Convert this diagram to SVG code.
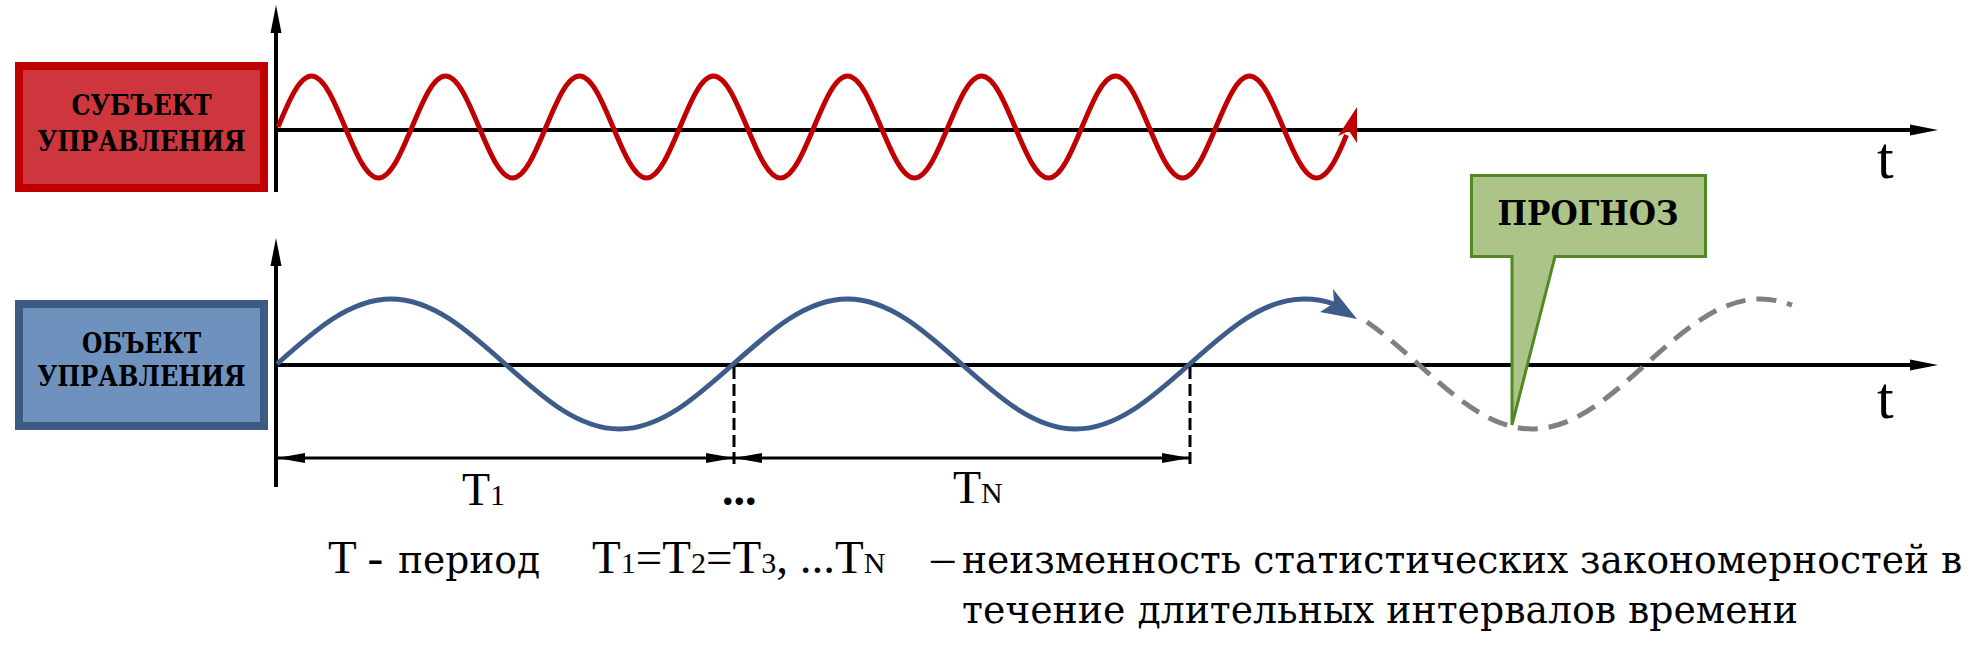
<svg xmlns="http://www.w3.org/2000/svg" width="1985" height="657" viewBox="0 0 1985 657">
<style>
  text { font-family: "Liberation Serif", "Times New Roman", serif; fill: #000; }
  .cyr { font-family: "DejaVu Serif", "Liberation Serif", serif; }
  .box { font-weight: bold; font-size: 27px; text-anchor: middle; }
  .axis { stroke: #000; stroke-width: 4; fill: none; }
  .dim { stroke: #000; stroke-width: 3; fill: none; }
  .vdash { stroke: #000; stroke-width: 3; stroke-dasharray: 12 5; fill: none; }
  .big { font-size: 47px; }
  .cbig { font-size: 40px; }
  .sub { font-size: 30px; }
  .tlab { font-size: 60px; }
</style>
<defs>
  <marker id="axArrow" markerUnits="userSpaceOnUse" markerWidth="30" markerHeight="14" refX="0" refY="0" viewBox="0 -7 30 14" orient="auto" overflow="visible">
    <path d="M0,-5.5 L28,0 L0,5.5 Z" fill="#000"/>
  </marker>
  <marker id="dimArrow" markerUnits="userSpaceOnUse" markerWidth="30" markerHeight="12" refX="28" refY="0" viewBox="0 -6 30 12" orient="auto-start-reverse" overflow="visible">
    <path d="M0,-5 L28,0 L0,5 Z" fill="#000"/>
  </marker>
</defs>

<g id="node-subject">
  <rect x="19" y="66" width="245" height="122" fill="#CC363C" stroke="#C00000" stroke-width="8"/>
  <text class="box cyr" x="141.5" y="115" textLength="140" lengthAdjust="spacingAndGlyphs">СУБЪЕКТ</text>
  <text class="box cyr" x="141.5" y="151" textLength="208" lengthAdjust="spacingAndGlyphs">УПРАВЛЕНИЯ</text>
</g>

<g id="node-object">
  <rect x="19" y="304" width="245" height="122" fill="#6E91BE" stroke="#3C5A82" stroke-width="8"/>
  <text class="box cyr" x="141.5" y="353" textLength="119" lengthAdjust="spacingAndGlyphs">ОБЪЕКТ</text>
  <text class="box cyr" x="141.5" y="386" textLength="208" lengthAdjust="spacingAndGlyphs">УПРАВЛЕНИЯ</text>
</g>

<g id="axes">
  <line class="axis" x1="276" y1="192" x2="276" y2="33" marker-end="url(#axArrow)"/>
  <line class="axis" x1="274" y1="130" x2="1910" y2="130" marker-end="url(#axArrow)"/>
  <line class="axis" x1="276" y1="487" x2="276" y2="266" marker-end="url(#axArrow)"/>
  <line class="axis" x1="274" y1="365" x2="1910" y2="365" marker-end="url(#axArrow)"/>
  <text class="tlab" x="1877" y="178">t</text>
  <text class="tlab" x="1877" y="418">t</text>
</g>

<g id="wave-subject">
  <path fill="none" stroke="#C00000" stroke-width="5" d="M278,127 c10.92,-26.13 21.38,-51 33.5,-51 s22.58,24.87 33.5,51 s21.38,51 33.5,51 s22.58,-24.87 33.5,-51
  s21.38,-51 33.5,-51 s22.58,24.87 33.5,51 s21.38,51 33.5,51 s22.58,-24.87 33.5,-51
  s21.38,-51 33.5,-51 s22.58,24.87 33.5,51 s21.38,51 33.5,51 s22.58,-24.87 33.5,-51
  s21.38,-51 33.5,-51 s22.58,24.87 33.5,51 s21.38,51 33.5,51 s22.58,-24.87 33.5,-51
  s21.38,-51 33.5,-51 s22.58,24.87 33.5,51 s21.38,51 33.5,51 s22.58,-24.87 33.5,-51
  s21.38,-51 33.5,-51 s22.58,24.87 33.5,51 s21.38,51 33.5,51 s22.58,-24.87 33.5,-51
  s21.38,-51 33.5,-51 s22.58,24.87 33.5,51 s21.38,51 33.5,51 s22.58,-24.87 33.5,-51
  s21.38,-51 33.5,-51 s22.58,24.87 33.5,51 s21.38,51 33.5,51 s22.58,-24.87 30,-43"/>
  <polygon points="1357,107 1338,136 1349,131 1357,143" fill="#C00000"/>
</g>

<g id="wave-object">
  <path fill="none" stroke="#3E5C8A" stroke-width="5" d="M277,364 c37.21,-33.3 72.81,-65 114.1,-65 s76.89,31.7 114.1,65 s72.81,65 114.1,65 s76.89,-31.7 114.1,-65
  s72.81,-65 114.1,-65 s76.89,31.7 114.1,65 s72.81,65 114.1,65 s76.89,-31.7 114.1,-65
  s72.81,-65 114.1,-65 C1315.9,299 1326,301 1334,304"/>
  <polygon points="1357,319 1333,289 1334,303 1320,312" fill="#3E5C8A"/>
</g>

<g id="wave-forecast">
  <path fill="none" stroke="#808080" stroke-width="5" stroke-dasharray="20 11" d="M1367,322 C1384,333.6 1401,348.8 1418,364 c37.21,33.3 72.81,65 114.1,65 s76.89,-31.7 114.1,-65 s72.81,-65 114.1,-65 C1771,299 1781.3,301.1 1792,305.2"/>
</g>

<g id="node-forecast">
  <path d="M1471.5,175.5 H1705.5 V256.5 H1555 L1512,425 V256.5 H1471.5 Z" fill="#ADC488" stroke="#4F8A22" stroke-width="3" stroke-linejoin="miter"/>
  <text class="cyr" x="1588" y="225" font-size="34" font-weight="bold" text-anchor="middle" textLength="181" lengthAdjust="spacingAndGlyphs">ПРОГНОЗ</text>
</g>

<g id="connectors">
  <line class="vdash" x1="734" y1="367" x2="734" y2="464"/>
  <line class="vdash" x1="1190" y1="367" x2="1190" y2="464"/>
  <line class="dim" x1="277" y1="458" x2="734" y2="458" marker-start="url(#dimArrow)" marker-end="url(#dimArrow)"/>
  <line class="dim" x1="734" y1="458" x2="1190" y2="458" marker-start="url(#dimArrow)" marker-end="url(#dimArrow)"/>
</g>

<g id="labels">
  <text x="462" y="505" font-size="46">T<tspan class="sub">1</tspan></text>
  <text x="722" y="505" font-size="46" font-weight="bold">...</text>
  <text x="953" y="503" font-size="46">T<tspan class="sub">N</tspan></text>
  <text class="big" x="328" y="573">T -</text>
  <text class="cyr cbig" transform="translate(398,573) scale(0.95,1)" x="0" y="0" textLength="149.5" lengthAdjust="spacingAndGlyphs">период</text>
  <text class="big" x="592" y="573">T<tspan class="sub">1</tspan>=T<tspan class="sub">2</tspan>=T<tspan class="sub">3</tspan>, ...T<tspan class="sub">N</tspan></text>
  <text class="big" transform="translate(931,573) scale(0.5,1)" x="0" y="0">—</text>
  <text class="cyr cbig" transform="translate(962,573) scale(0.893,1)" x="0" y="0" textLength="1120" lengthAdjust="spacingAndGlyphs">неизменность статистических закономерностей в</text>
  <text class="cyr cbig" transform="translate(962,623) scale(0.933,1)" x="0" y="0" textLength="896" lengthAdjust="spacingAndGlyphs">течение длительных интервалов времени</text>
</g>
</svg>
